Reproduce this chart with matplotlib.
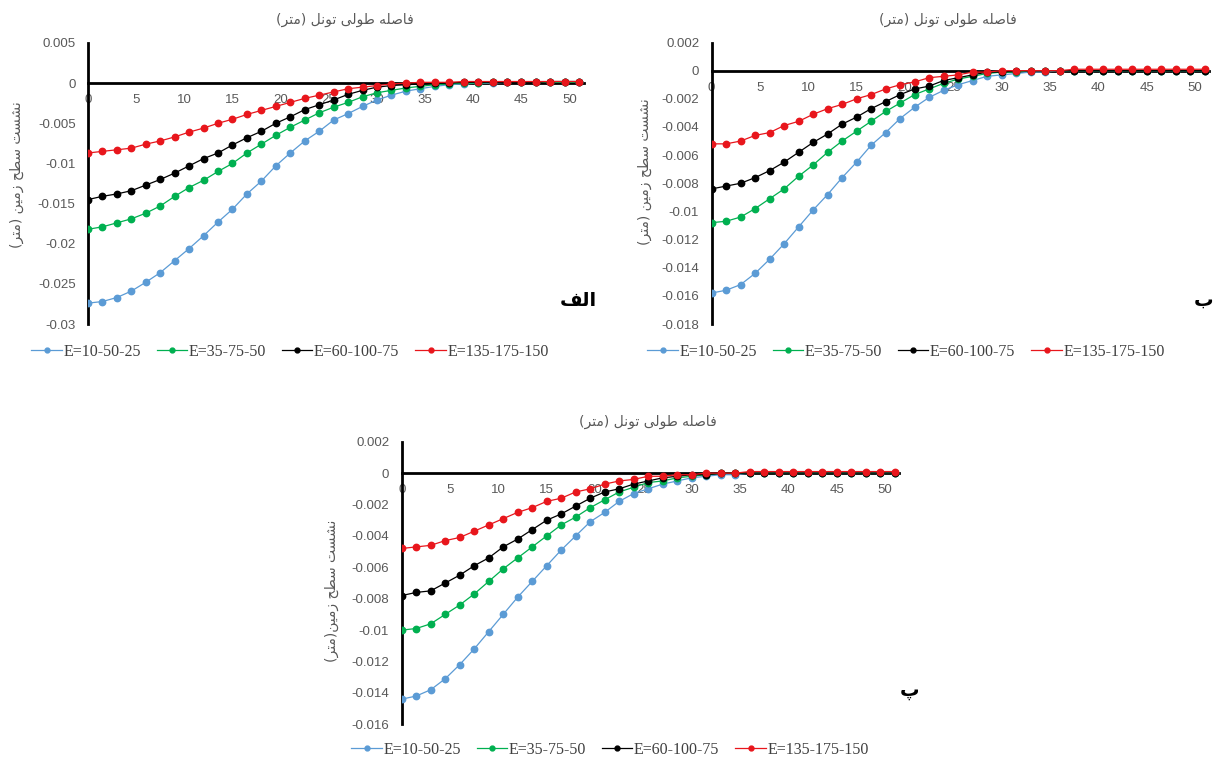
import matplotlib
matplotlib.use("Agg")
import matplotlib.pyplot as plt
from matplotlib.lines import Line2D
from matplotlib.ticker import FuncFormatter, MultipleLocator

# فاصله طولی تونل (متر)
x = [0, 1.5, 3, 4.5, 6, 7.5, 9, 10.5, 12, 13.5, 15, 16.5, 18, 19.5, 21, 22.5, 24,
     25.5, 27, 28.5, 30, 31.5, 33, 34.5, 36, 37.5, 39, 40.5, 42, 43.5, 45, 46.5,
     48, 49.5, 51]

labels = ["E=10-50-25", "E=35-75-50", "E=60-100-75", "E=135-175-150"]

# --- الف ---
alef_blue = [-0.0274, -0.0272, -0.0267, -0.0259, -0.0248, -0.0236, -0.0221, -0.0206,
             -0.0190, -0.0173, -0.0157, -0.0138, -0.0122, -0.0103, -0.0087, -0.0072,
             -0.0060, -0.0046, -0.0038, -0.0029, -0.0021, -0.0015, -0.0010, -0.0007,
             -0.0004, -0.0002, -0.0001, 0.0, 0.0, 0.0001, 0.0001, 0.0001, 0.0001,
             0.0001, 0.0001]
alef_green = [-0.0182, -0.0179, -0.0174, -0.0169, -0.0162, -0.0153, -0.0141, -0.0130,
              -0.0121, -0.0110, -0.0100, -0.0087, -0.0076, -0.0065, -0.0055, -0.0046,
              -0.0037, -0.0030, -0.0024, -0.0017, -0.0012, -0.0009, -0.0006, -0.0004,
              -0.0002, -0.0001, 0.0, 0.0, 0.0001, 0.0001, 0.0001, 0.0001, 0.0001,
              0.0001, 0.0001]
alef_black = [-0.0145, -0.0141, -0.0138, -0.0134, -0.0127, -0.0120, -0.0112, -0.0103,
              -0.0094, -0.0087, -0.0077, -0.0068, -0.0060, -0.0050, -0.0042, -0.0033,
              -0.0027, -0.0021, -0.0014, -0.0009, -0.0005, -0.0003, -0.0002, -0.0001,
              0.0, 0.0, 0.0001, 0.0001, 0.0001, 0.0001, 0.0001, 0.0001, 0.0002,
              0.0002, 0.0002]
alef_red = [-0.0087, -0.0085, -0.0083, -0.0081, -0.0076, -0.0072, -0.0067, -0.0061,
            -0.0056, -0.0050, -0.0045, -0.0039, -0.0034, -0.0029, -0.0024, -0.0019,
            -0.0015, -0.0011, -0.0007, -0.0005, -0.0003, -0.0001, 0.0, 0.0001,
            0.0001, 0.0001, 0.0002, 0.0002, 0.0002, 0.0002, 0.0002, 0.0002, 0.0002,
            0.0002, 0.0002]

# --- ب ---
be_blue = [-0.0158, -0.0156, -0.0152, -0.0144, -0.0134, -0.0123, -0.0111, -0.0099,
           -0.0088, -0.0076, -0.0065, -0.0053, -0.0044, -0.0034, -0.0026, -0.0019,
           -0.0014, -0.0010, -0.0007, -0.0004, -0.0003, -0.0002, -0.0001, -0.0001,
           0.0, 0.0, 0.0, 0.0, 0.0, 0.0, 0.0, 0.0, 0.0, 0.0, 0.0]
be_green = [-0.0108, -0.0107, -0.0104, -0.0098, -0.0091, -0.0084, -0.0075, -0.0067,
            -0.0058, -0.0050, -0.0043, -0.0036, -0.0029, -0.0023, -0.0017, -0.0013,
            -0.0009, -0.0006, -0.0004, -0.0002, -0.0001, -0.0001, 0.0, 0.0, 0.0,
            0.0, 0.0, 0.0, 0.0, 0.0, 0.0, 0.0, 0.0, 0.0, 0.0]
be_black = [-0.0084, -0.0082, -0.0080, -0.0076, -0.0071, -0.0065, -0.0058, -0.0051,
            -0.0045, -0.0038, -0.0033, -0.0027, -0.0022, -0.0017, -0.0013, -0.0011,
            -0.0007, -0.0005, -0.0003, -0.0001, -0.0001, 0.0, 0.0, 0.0, 0.0, 0.0,
            0.0, 0.0, 0.0, 0.0, 0.0, 0.0, 0.0, 0.0, 0.0]
be_red = [-0.0052, -0.0052, -0.0050, -0.0046, -0.0044, -0.0039, -0.0036, -0.0031,
          -0.0027, -0.0024, -0.0020, -0.0017, -0.0013, -0.0010, -0.0008, -0.0005,
          -0.0004, -0.0003, -0.0001, -0.0001, 0.0, 0.0, 0.0, 0.0, 0.0, 0.0001,
          0.0001, 0.0001, 0.0001, 0.0001, 0.0001, 0.0001, 0.0001, 0.0001, 0.0001]

# --- پ ---
pe_blue = [-0.0144, -0.0142, -0.0138, -0.0131, -0.0122, -0.0112, -0.0101, -0.0090,
           -0.0079, -0.0069, -0.0059, -0.0049, -0.0040, -0.0031, -0.0025, -0.0018,
           -0.0013, -0.0010, -0.0007, -0.0005, -0.0003, -0.0002, -0.0001, -0.0001,
           0.0, 0.0, 0.0, 0.0, 0.0, 0.0, 0.0, 0.0, 0.0, 0.0, 0.0]
pe_green = [-0.0100, -0.0099, -0.0096, -0.0090, -0.0084, -0.0077, -0.0069, -0.0061,
            -0.0054, -0.0047, -0.0040, -0.0033, -0.0028, -0.0022, -0.0017, -0.0012,
            -0.0009, -0.0006, -0.0005, -0.0003, -0.0002, -0.0001, 0.0, 0.0, 0.0,
            0.0, 0.0, 0.0, 0.0, 0.0, 0.0, 0.0, 0.0, 0.0, 0.0]
pe_black = [-0.0078, -0.0076, -0.0075, -0.0070, -0.0065, -0.0059, -0.0054, -0.0047,
            -0.0042, -0.0036, -0.0030, -0.0026, -0.0021, -0.0016, -0.0012, -0.0010,
            -0.0007, -0.0005, -0.0003, -0.0002, -0.0001, -0.0001, 0.0, 0.0, 0.0,
            0.0, 0.0, 0.0, 0.0, 0.0, 0.0, 0.0, 0.0, 0.0, 0.0]
pe_red = [-0.0048, -0.0047, -0.0046, -0.0043, -0.0041, -0.0037, -0.0033, -0.0029,
          -0.0025, -0.0022, -0.0018, -0.0016, -0.0012, -0.0010, -0.0007, -0.0005,
          -0.0004, -0.0002, -0.0002, -0.0001, -0.0001, 0.0, 0.0, 0.0, 0.0001,
          0.0001, 0.0001, 0.0001, 0.0001, 0.0001, 0.0001, 0.0001, 0.0001, 0.0001,
          0.0001]

colors = ["#5b9bd5", "#00b050", "#000000", "#e8161c"]
gray = "#595959"

# matplotlib has no arabic shaping, so pick the presentation forms by hand
# (isolated, final, initial, medial)
FORMS = {
    "ا": ("\uFE8D", "\uFE8E", None, None),
    "ب": ("\uFE8F", "\uFE90", "\uFE91", "\uFE92"),
    "پ": ("\uFB56", "\uFB57", "\uFB58", "\uFB59"),
    "ت": ("\uFE95", "\uFE96", "\uFE97", "\uFE98"),
    "ح": ("\uFEA1", "\uFEA2", "\uFEA3", "\uFEA4"),
    "ر": ("\uFEAD", "\uFEAE", None, None),
    "ز": ("\uFEAF", "\uFEB0", None, None),
    "س": ("\uFEB1", "\uFEB2", "\uFEB3", "\uFEB4"),
    "ش": ("\uFEB5", "\uFEB6", "\uFEB7", "\uFEB8"),
    "ص": ("\uFEB9", "\uFEBA", "\uFEBB", "\uFEBC"),
    "ط": ("\uFEC1", "\uFEC2", "\uFEC3", "\uFEC4"),
    "ف": ("\uFED1", "\uFED2", "\uFED3", "\uFED4"),
    "ل": ("\uFEDD", "\uFEDE", "\uFEDF", "\uFEE0"),
    "م": ("\uFEE1", "\uFEE2", "\uFEE3", "\uFEE4"),
    "ن": ("\uFEE5", "\uFEE6", "\uFEE7", "\uFEE8"),
    "ه": ("\uFEE9", "\uFEEA", "\uFEEB", "\uFEEC"),
    "و": ("\uFEED", "\uFEEE", None, None),
    "ی": ("\uFBFC", "\uFBFD", "\uFBFE", "\uFBFF"),
}
RIGHT_ONLY = set("ادذرزژو")


def fa(s):
    out = []
    for i, ch in enumerate(s):
        if ch not in FORMS:
            out.append(ch)
            continue
        prev = s[i - 1] if i > 0 else ""
        nxt = s[i + 1] if i < len(s) - 1 else ""
        jp = prev in FORMS and prev not in RIGHT_ONLY
        jn = nxt in FORMS and ch not in RIGHT_ONLY
        iso, fin, ini, med = FORMS[ch]
        if jp and jn:
            out.append(med)
        elif jp:
            out.append(fin)
        elif jn:
            out.append(ini)
        else:
            out.append(iso)
    vis = "".join(out)[::-1]
    return vis.replace("(", "\0").replace(")", "(").replace("\0", ")")


def yfmt(v, pos):
    v = round(v, 6)
    if v == 0:
        return "0"
    return f"{v:g}"


def panel(rect, series, ylo, yhi, step, title, ylabel, title_xy, ylabel_xy,
          letter_xy, letter, legend_xy):
    ax = fig.add_axes(rect)
    for ys, c in zip(series, colors):
        ax.plot(x, ys, color=c, lw=0.9, marker="o", ms=4.6, mec=c, mfc=c, zorder=3)
    ax.set_xlim(0, 51.5)
    ax.set_ylim(ylo, yhi)
    ax.xaxis.set_major_locator(MultipleLocator(5))
    ax.yaxis.set_major_locator(MultipleLocator(step))
    ax.yaxis.set_major_formatter(FuncFormatter(yfmt))
    for s in ["top", "right"]:
        ax.spines[s].set_visible(False)
    ax.spines["bottom"].set_position(("data", 0))
    ax.spines["bottom"].set_linewidth(2.0)
    ax.spines["left"].set_linewidth(2.0)
    ax.spines["bottom"].set_zorder(2)
    ax.tick_params(axis="both", length=0, labelsize=9.5, labelcolor=gray)
    ax.tick_params(axis="x", pad=8)
    ax.tick_params(axis="y", pad=9)
    for t in ax.get_xticklabels() + ax.get_yticklabels():
        t.set_fontfamily("Liberation Sans")
    ax.patch.set_alpha(0)

    fig.text(title_xy[0] / W, 1 - title_xy[1] / H, fa(title), ha="center",
             va="center", fontsize=10, color=gray, family="DejaVu Sans")
    fig.text(ylabel_xy[0] / W, 1 - ylabel_xy[1] / H, fa(ylabel), ha="center",
             va="center", rotation=90, fontsize=10, color=gray, family="DejaVu Sans")
    fig.text(letter_xy[0] / W, 1 - letter_xy[1] / H, fa(letter), ha="center",
             va="center", fontsize=14, fontweight="bold", color="black",
             family="DejaVu Sans")

    handles = [Line2D([0], [0], color=c, lw=0.9, marker="o", ms=3.5, mec=c, mfc=c)
               for c in colors]
    fig.legend(handles, labels, loc="center", ncol=4, frameon=False,
               bbox_to_anchor=(legend_xy[0] / W, 1 - legend_xy[1] / H),
               prop={"family": "Liberation Serif", "size": 11.5},
               labelcolor="#404040", handlelength=1.9, handletextpad=0.1,
               columnspacing=1.0)
    return ax


W, H = 1214, 762
fig = plt.figure(figsize=(W / 100, H / 100), dpi=100)

title = "فاصله طولی تونل (متر)"

panel([0.0725, 0.5748, 0.4086, 0.3688],
      [alef_blue, alef_green, alef_black, alef_red], -0.03, 0.005, 0.005,
      title, "نشست سطح زمین (متر)", (345, 20), (17, 175), (578, 301), "الف",
      (290, 352))

panel([0.5862, 0.5748, 0.410, 0.3694],
      [be_blue, be_green, be_black, be_red], -0.018, 0.002, 0.002,
      title, "نشست سطح زمین (متر)", (948, 20), (645, 172), (1204, 300), "ب",
      (906, 352))

panel([0.3309, 0.0495, 0.410, 0.3708],
      [pe_blue, pe_green, pe_black, pe_red], -0.016, 0.002, 0.002,
      title, "نشست سطح زمین(متر)", (648, 422), (332, 591), (910, 690), "پ",
      (610, 750))

fig.savefig("out.png", dpi=100)
